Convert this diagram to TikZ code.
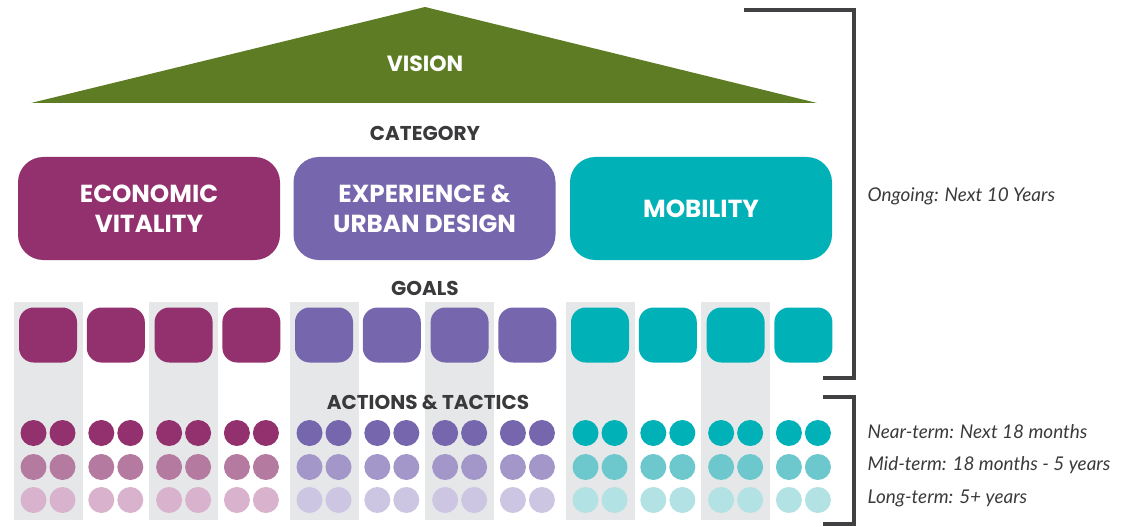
\documentclass[tikz,border=0pt]{standalone}
\usepackage{fontspec}
\setmainfont{Poppins}
\newfontfamily\labelfont{Lato}
\definecolor{roof}{HTML}{5E7C23}
\definecolor{econ}{HTML}{93306E}
\definecolor{econmid}{HTML}{B57AA0}
\definecolor{econlight}{HTML}{D9B3CD}
\definecolor{exper}{HTML}{7566AD}
\definecolor{expermid}{HTML}{A397C9}
\definecolor{experlight}{HTML}{CCC6E3}
\definecolor{mobil}{HTML}{00B2B8}
\definecolor{mobilmid}{HTML}{6CC8CC}
\definecolor{mobillight}{HTML}{B3E2E5}
\definecolor{colgrey}{HTML}{E6E7E8}
\definecolor{headgrey}{HTML}{3A3A3C}
\definecolor{bracketgrey}{HTML}{414143}

\begin{document}
\begin{tikzpicture}[x=0.75pt,y=-0.75pt,
	catbox/.style={rectangle,rounded corners=19pt,minimum width=196.5pt,minimum height=77.25pt,text=white,align=center,font=\bfseries\fontsize{18.5}{22.5}\selectfont},
	goalbox/.style={rectangle,rounded corners=11pt,minimum width=43.5pt,minimum height=41.25pt,inner sep=0pt},
	tacticdot/.style={circle,minimum size=19.5pt,inner sep=0pt},
	heading/.style={text=headgrey,font=\bfseries\fontsize{15}{17}\selectfont},
	timelabel/.style={anchor=west,text=headgrey,font=\labelfont\itshape\fontsize{14.2}{17}\selectfont},
	bracket/.style={draw=bracketgrey,line width=3pt}]
	
	\useasboundingbox (0,0) rectangle (1130,527);
	
	% vision roof
	\fill[roof] (31,103) -- (425,7) -- (817,103) -- cycle;
	\node[text=white,font=\bfseries\fontsize{16.5}{18}\selectfont] (vision) at (425,64) {VISION};
	
	\node[heading] (category) at (425,133) {CATEGORY};
	\node[catbox,fill=econ] (econbox) at (149,208.5) {ECONOMIC\\VITALITY};
	\node[catbox,fill=exper] (experbox) at (424.5,208.5) {EXPERIENCE \&\\URBAN DESIGN};
	\node[catbox,fill=mobil] (mobilbox) at (701,208.5) {MOBILITY};
	
	\node[heading] (goals) at (425,288) {GOALS};
	
	% grey columns behind every other goal
	\foreach \g in {0,...,2}
		\foreach \k in {0,2}
		{
			\pgfmathsetmacro{\cx}{48+276*\g+67.8*\k}
			\fill[colgrey] (\cx-34.5,302) rectangle (\cx+34.5,520);
		}
	
	\node[heading] (actions) at (428,402) {ACTIONS \& TACTICS};
	
	\foreach \g/\c in {0/econ,1/exper,2/mobil}
		\foreach \k in {0,...,3}
		{
			\pgfmathsetmacro{\cx}{48+276*\g+67.8*\k}
			\pgfmathtruncatemacro{\n}{4*\g+\k+1}
			\node[goalbox,fill=\c] (g\n) at (\cx,335) {};
			\node[tacticdot,fill=\c] (a\n l) at (\cx-14.5,433) {};
			\node[tacticdot,fill=\c] (a\n r) at (\cx+14.5,433) {};
			\node[tacticdot,fill=\c mid] (b\n l) at (\cx-14.5,467) {};
			\node[tacticdot,fill=\c mid] (b\n r) at (\cx+14.5,467) {};
			\node[tacticdot,fill=\c light] (c\n l) at (\cx-14.5,500) {};
			\node[tacticdot,fill=\c light] (c\n r) at (\cx+14.5,500) {};
		}
	
	% time brackets
	\draw[bracket] (744,10) -- (854,10) -- (854,378) -- (823,378);
	\draw[bracket] (823,397) -- (854,397) -- (854,524) -- (823,524);
	
	\node[timelabel] (ongoing) at (863,196) {Ongoing: Next 10 Years};
	\node[timelabel] (near) at (863,432) {Near-term: Next 18 months};
	\node[timelabel] (mid) at (863,465) {Mid-term: 18 months - 5 years};
	\node[timelabel] (long) at (863,498) {Long-term: 5+ years};
\end{tikzpicture}
\end{document}
